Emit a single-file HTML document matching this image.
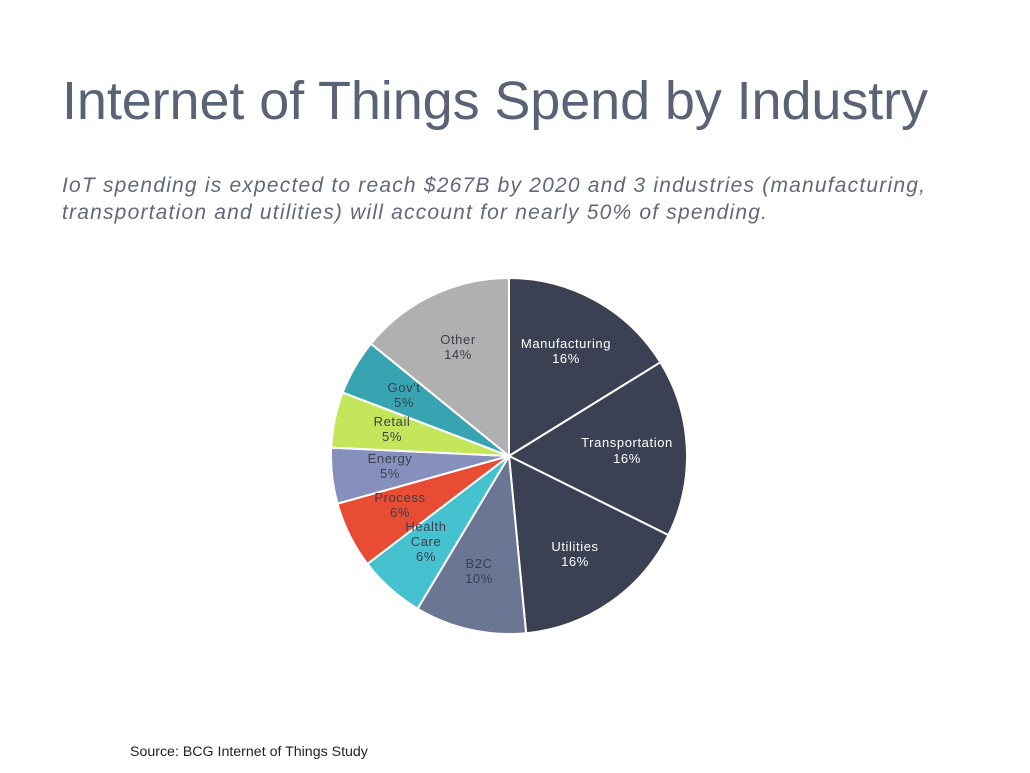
<!DOCTYPE html>
<html><head><meta charset="utf-8"><style>
body{margin:0;background:#fff;width:1030px;height:773px;overflow:hidden;position:relative;font-family:"Liberation Sans",sans-serif}
.t{position:absolute;left:62px;top:70px;font-size:54px;color:#5a6276;white-space:nowrap;letter-spacing:-0.1px}
.s{position:absolute;left:62px;top:172px;font-size:21px;font-style:italic;color:#626878;line-height:27px;white-space:nowrap;letter-spacing:1.2px}
.src{position:absolute;left:130px;top:744px;font-size:14.2px;color:#222}
svg{position:absolute;left:0;top:0}
text{font-family:"Liberation Sans",sans-serif;font-size:13px;letter-spacing:0.6px;text-anchor:middle}
</style></head><body>
<div class="t">Internet of Things Spend by Industry</div>
<div class="s">IoT spending is expected to reach $267B by 2020 and 3 industries (manufacturing,<br>transportation and utilities) will account for nearly 50% of spending.</div>
<svg width="1030" height="773">
<g stroke="#fff" stroke-width="2" stroke-linejoin="round">
<path d="M509,456 L509,278 A178,178 0 0 1 660.4,362.3 Z" fill="#3b4152"/>
<path d="M509,456 L660.4,362.3 A178,178 0 0 1 668.4,535.1 Z" fill="#3b4152"/>
<path d="M509,456 L668.4,535.1 A178,178 0 0 1 526.1,633.2 Z" fill="#3b4152"/>
<path d="M509,456 L526.1,633.2 A178,178 0 0 1 417.6,608.7 Z" fill="#6b7594"/>
<path d="M509,456 L417.6,608.7 A178,178 0 0 1 367.4,563.9 Z" fill="#45c1cf"/>
<path d="M509,456 L367.4,563.9 A178,178 0 0 1 337.5,503.6 Z" fill="#e84c32"/>
<path d="M509,456 L337.5,503.6 A178,178 0 0 1 331.2,447.6 Z" fill="#8690bd"/>
<path d="M509,456 L331.2,447.6 A178,178 0 0 1 342.7,392.5 Z" fill="#c4e65a"/>
<path d="M509,456 L342.7,392.5 A178,178 0 0 1 370.9,343.7 Z" fill="#39a4b1"/>
<path d="M509,456 L370.9,343.7 A178,178 0 0 1 509,278 Z" fill="#b0b0b0"/>
</g>
<g fill="#fff">
<text x="566" y="348">Manufacturing</text><text x="566" y="363">16%</text>
<text x="627" y="447">Transportation</text><text x="627" y="463">16%</text>
<text x="575" y="551">Utilities</text><text x="575" y="566">16%</text>
</g>
<g fill="#3a3f4f">
<text x="479" y="568">B2C</text><text x="479" y="583">10%</text>
<text x="426" y="531">Health</text><text x="426" y="546">Care</text><text x="426" y="561">6%</text>
<text x="400" y="502">Process</text><text x="400" y="517">6%</text>
<text x="390" y="463">Energy</text><text x="390" y="478">5%</text>
<text x="392" y="426">Retail</text><text x="392" y="441">5%</text>
<text x="404" y="392">Gov't</text><text x="404" y="407">5%</text>
<text x="458" y="344">Other</text><text x="458" y="359">14%</text>
</g>
</svg>
<div class="src">Source: BCG Internet of Things Study</div>
</body></html>
